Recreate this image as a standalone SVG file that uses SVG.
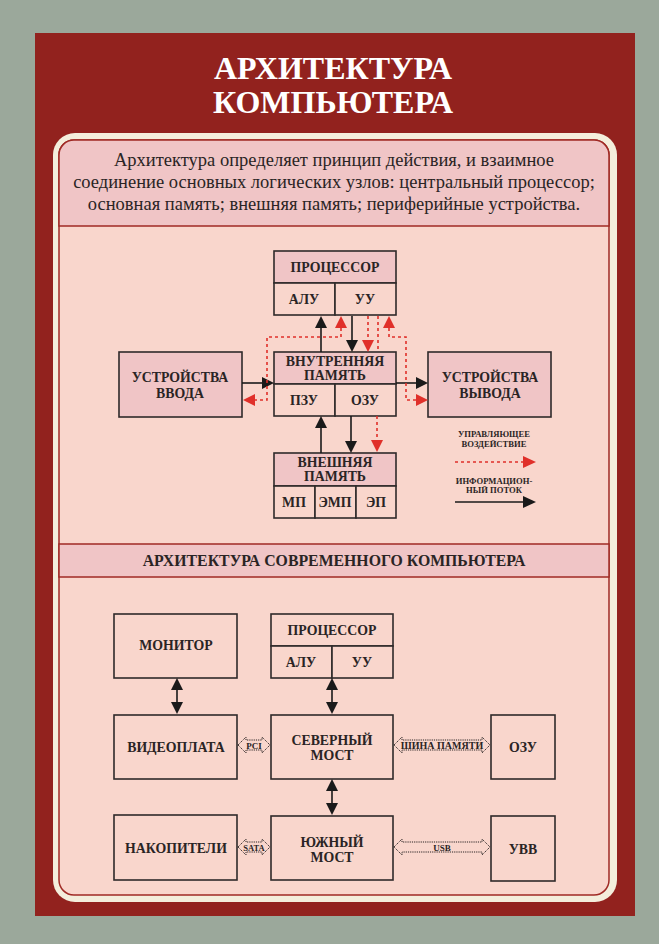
<svg xmlns="http://www.w3.org/2000/svg" width="659" height="944" viewBox="0 0 659 944">
<defs>
<style>
.box{fill:#f9d6cc;stroke:#2f2a2a;stroke-width:1.6}
.hd{fill:#f0c5c6;stroke:#2f2a2a;stroke-width:1.6}
.t{font-family:"Liberation Serif","Times New Roman",serif;font-weight:bold;fill:#2a2424;text-anchor:middle}
.b12{font-size:13.8px}
.b8{font-size:10px}
.b7{font-size:8.6px}
.blk{stroke:#1a1a1a;stroke-width:1.6;fill:none}
.red{stroke:#e0302a;stroke-width:1.6;fill:none;stroke-dasharray:3 3}
.ha{fill:#1a1a1a}
.hr{fill:#e0302a}
.bus{fill:#f9d6cc;stroke:#2a2424;stroke-width:1;stroke-dasharray:1.2 1}
</style>
</defs>
<rect x="0" y="0" width="659" height="944" fill="#9ba89b"/>
<rect x="35" y="33" width="600" height="883" fill="#92221e"/>
<text x="333" y="79" font-family="Liberation Serif, serif" font-weight="bold" font-size="32" fill="#ffffff" text-anchor="middle">АРХИТЕКТУРА</text>
<text x="333" y="113" font-family="Liberation Serif, serif" font-weight="bold" font-size="32" fill="#ffffff" text-anchor="middle">КОМПЬЮТЕРА</text>
<rect x="53" y="133" width="564" height="769" rx="22" fill="#f4eedc"/>
<rect x="59" y="140" width="550" height="755" rx="15" fill="#f9d6cc" stroke="#a02a25" stroke-width="1.5"/>
<path d="M59,226 L59,155 A15,15 0 0 1 74,140 L594,140 A15,15 0 0 1 609,155 L609,226 Z" fill="#f0c5c6" stroke="#a02a25" stroke-width="1.5"/>
<rect x="59" y="544" width="550" height="33" fill="#f0c5c6" stroke="#a02a25" stroke-width="1.5"/>
<g font-family="Liberation Serif, serif" font-size="18.5" fill="#2a2424" text-anchor="middle">
<text x="334" y="166">Архитектура определяет принцип действия, и взаимное</text>
<text x="334" y="188">соединение основных логических узлов: центральный процессор;</text>
<text x="334" y="210">основная память; внешняя память; периферийные устройства.</text>
</g>
<text class="t" x="334" y="566" font-size="15.8">АРХИТЕКТУРА СОВРЕМЕННОГО КОМПЬЮТЕРА</text>

<!-- Diagram 1 -->
<g id="cpu1">
<rect class="hd" x="274" y="251" width="122" height="32"/>
<rect class="box" x="274" y="283" width="61" height="32"/>
<rect class="box" x="335" y="283" width="61" height="32"/>
<text class="t b12" x="335" y="272">ПРОЦЕССОР</text>
<text class="t b12" x="304" y="304">АЛУ</text>
<text class="t b12" x="365" y="304">УУ</text>
</g>
<g id="mem1">
<rect class="hd" x="274" y="352" width="122" height="32"/>
<rect class="box" x="274" y="384" width="61" height="32"/>
<rect class="box" x="335" y="384" width="61" height="32"/>
<text class="t b12" x="335" y="366">ВНУТРЕННЯЯ</text>
<text class="t b12" x="335" y="380">ПАМЯТЬ</text>
<text class="t b12" x="304" y="405">ПЗУ</text>
<text class="t b12" x="365" y="405">ОЗУ</text>
</g>
<g id="ext1">
<rect class="hd" x="274" y="453" width="122" height="33"/>
<rect class="box" x="274" y="486" width="41" height="32"/>
<rect class="box" x="315" y="486" width="41" height="32"/>
<rect class="box" x="356" y="486" width="40" height="32"/>
<text class="t b12" x="335" y="467">ВНЕШНЯЯ</text>
<text class="t b12" x="335" y="481">ПАМЯТЬ</text>
<text class="t b12" x="294" y="507">МП</text>
<text class="t b12" x="335" y="507">ЭМП</text>
<text class="t b12" x="376" y="507">ЭП</text>
</g>
<g id="in1">
<rect class="hd" x="119" y="352" width="123" height="65"/>
<text class="t b12" x="180" y="382">УСТРОЙСТВА</text>
<text class="t b12" x="180" y="398">ВВОДА</text>
</g>
<g id="out1">
<rect class="hd" x="428" y="352" width="123" height="65"/>
<text class="t b12" x="490" y="382">УСТРОЙСТВА</text>
<text class="t b12" x="490" y="398">ВЫВОДА</text>
</g>
<g id="legend">
<text class="t b7" x="494" y="437">УПРАВЛЯЮЩЕЕ</text>
<text class="t b7" x="494" y="447">ВОЗДЕЙСТВИЕ</text>
<line class="red" x1="455" y1="462" x2="524" y2="462"/>
<polygon class="hr" points="536,462 523,456 523,468"/>
<text class="t b7" x="494" y="484">ИНФОРМАЦИОН-</text>
<text class="t b7" x="494" y="493">НЫЙ ПОТОК</text>
<line class="blk" x1="455" y1="502" x2="524" y2="502"/>
<polygon class="ha" points="536,502 523,496 523,508"/>
</g>
<g id="connectors1">
<line class="blk" x1="321" y1="352" x2="321" y2="327"/>
<polygon class="ha" points="321,316 315,328 327,328"/>
<line class="blk" x1="352" y1="316" x2="352" y2="340"/>
<polygon class="ha" points="352,352 346,340 358,340"/>
<line class="blk" x1="242" y1="383" x2="262" y2="383"/>
<polygon class="ha" points="274,383 262,377 262,389"/>
<line class="blk" x1="396" y1="383" x2="417" y2="383"/>
<polygon class="ha" points="428,383 416,377 416,389"/>
<line class="blk" x1="321" y1="453" x2="321" y2="427"/>
<polygon class="ha" points="321,416 315,428 327,428"/>
<line class="blk" x1="351" y1="416" x2="351" y2="441"/>
<polygon class="ha" points="351,453 345,441 357,441"/>
<polyline class="red" points="341,328 341,337 267,337 267,400 255,400"/>
<polygon class="hr" points="243,400 255,394 255,406"/>
<polygon class="hr" points="341,316 335,328 347,328"/>
<line class="red" x1="368" y1="316" x2="368" y2="341"/>
<polygon class="hr" points="368,352 362,340 374,340"/>
<line class="red" x1="378" y1="316" x2="378" y2="352"/>
<line class="red" x1="377" y1="416" x2="377" y2="441"/>
<polygon class="hr" points="377,452 371,440 383,440"/>
<polyline class="red" points="389,328 389,337 406,337 406,400 416,400"/>
<polygon class="hr" points="389,316 383,328 395,328"/>
<polygon class="hr" points="428,400 416,394 416,406"/>
</g>

<!-- Diagram 2 -->
<g id="monitor">
<rect class="box" x="114" y="614" width="123" height="64"/>
<text class="t b12" x="176" y="650">МОНИТОР</text>
</g>
<g id="cpu2">
<rect class="box" x="271" y="614" width="122" height="32"/>
<rect class="box" x="271" y="646" width="61" height="32"/>
<rect class="box" x="332" y="646" width="61" height="32"/>
<text class="t b12" x="332" y="635">ПРОЦЕССОР</text>
<text class="t b12" x="301" y="667">АЛУ</text>
<text class="t b12" x="362" y="667">УУ</text>
</g>
<g id="video">
<rect class="box" x="114" y="715" width="123" height="64"/>
<text class="t b12" x="176" y="752">ВИДЕОПЛАТА</text>
</g>
<g id="north">
<rect class="box" x="271" y="715" width="122" height="64"/>
<text class="t b12" x="332" y="745">СЕВЕРНЫЙ</text>
<text class="t b12" x="332" y="760">МОСТ</text>
</g>
<g id="ram">
<rect class="box" x="491" y="715" width="64" height="64"/>
<text class="t b12" x="523" y="752">ОЗУ</text>
</g>
<g id="storage">
<rect class="box" x="114" y="815" width="123" height="65"/>
<text class="t b12" x="176" y="853">НАКОПИТЕЛИ</text>
</g>
<g id="south">
<rect class="box" x="271" y="816" width="122" height="64"/>
<text class="t b12" x="332" y="847">ЮЖНЫЙ</text>
<text class="t b12" x="332" y="862">МОСТ</text>
</g>
<g id="io">
<rect class="box" x="491" y="816" width="64" height="65"/>
<text class="t b12" x="523" y="854">УВВ</text>
</g>
<g id="connectors2">
<line class="blk" x1="177" y1="688" x2="177" y2="705"/>
<polygon class="ha" points="177,678 171,690 183,690"/>
<polygon class="ha" points="177,714 171,702 183,702"/>
<line class="blk" x1="332" y1="688" x2="332" y2="705"/>
<polygon class="ha" points="332,678 326,690 338,690"/>
<polygon class="ha" points="332,714 326,702 338,702"/>
<line class="blk" x1="332" y1="789" x2="332" y2="806"/>
<polygon class="ha" points="332,779 326,791 338,791"/>
<polygon class="ha" points="332,815 326,803 338,803"/>
<path class="bus" d="M238,745 L246,737 L246,740 L262,740 L262,737 L270,745 L262,753 L262,750 L246,750 L246,753 Z"/>
<text class="t" x="254" y="748.5" font-size="9">PCI</text>
<path class="bus" d="M394,745 L402,737 L402,740 L482,740 L482,737 L490,745 L482,753 L482,750 L402,750 L402,753 Z"/>
<text class="t b8" x="442" y="748.5">ШИНА ПАМЯТИ</text>
<path class="bus" d="M238,847 L246,839 L246,842 L262,842 L262,839 L270,847 L262,855 L262,852 L246,852 L246,855 Z"/>
<text class="t" x="254" y="850.5" font-size="8.5">SATA</text>
<path class="bus" d="M394,847 L402,839 L402,842 L482,842 L482,839 L490,847 L482,855 L482,852 L402,852 L402,855 Z"/>
<text class="t" x="442" y="850.5" font-size="9">USB</text>
</g>
</svg>
